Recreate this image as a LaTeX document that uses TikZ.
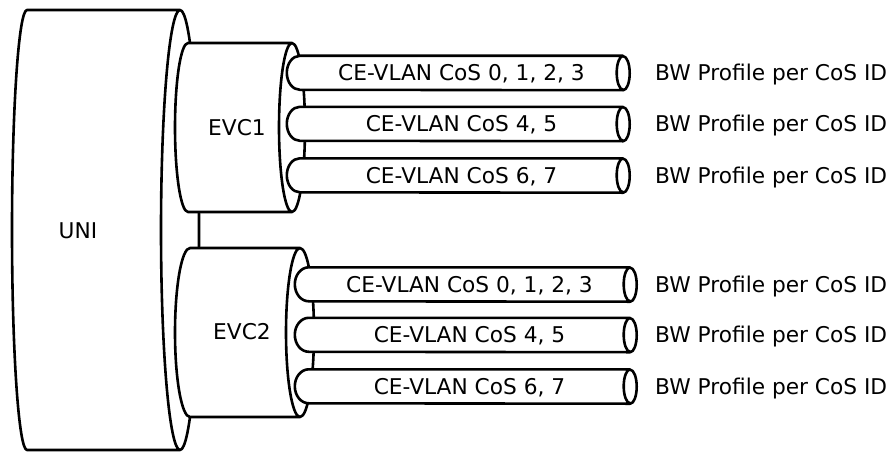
\documentclass[tikz,border=0pt]{standalone}
\usepackage{fontspec}
\setmainfont{DejaVu Sans}
\usetikzlibrary{backgrounds}

\begin{document}
\begin{tikzpicture}[
  x=1pt, y=1pt,
  txt/.style={inner sep=0pt,text height=15.8pt,text depth=0pt,font=\fontsize{21.7}{26}\selectfont},
  pipe/.style={txt,minimum height=34pt},
  bw/.style={txt,anchor=west},
  body/.style={draw,fill=white,line width=2.6pt,line join=round}
]
  \useasboundingbox (0,0) rectangle (893,-452);
  \node[txt] (uni) at (78,-231) {UNI};
  \node[txt] (evc1) at (237,-128) {EVC1};
  \node[txt] (evc2) at (242,-332) {EVC2};
  \node[pipe,minimum width=323pt] (c11) at (461.5,-73) {CE-VLAN CoS 0, 1, 2, 3};
  \node[pipe,minimum width=323pt] (c12) at (461.5,-124) {CE-VLAN CoS 4, 5};
  \node[pipe,minimum width=323pt] (c13) at (461.5,-175.5) {CE-VLAN CoS 6, 7};
  \node[pipe,minimum width=321pt] (c21) at (469.5,-284.5) {CE-VLAN CoS 0, 1, 2, 3};
  \node[pipe,minimum width=321pt] (c22) at (469.5,-335) {CE-VLAN CoS 4, 5};
  \node[pipe,minimum width=321pt] (c23) at (469.5,-386.5) {CE-VLAN CoS 6, 7};
  \node[bw] (b11) at (655,-73) {BW Profile per CoS ID};
  \node[bw] (b12) at (655,-124) {BW Profile per CoS ID};
  \node[bw] (b13) at (655,-175.5) {BW Profile per CoS ID};
  \node[bw] (b21) at (655,-284.5) {BW Profile per CoS ID};
  \node[bw] (b22) at (655,-335) {BW Profile per CoS ID};
  \node[bw] (b23) at (655,-386.5) {BW Profile per CoS ID};
  \begin{pgfonlayer}{background}
    % cylinders, back to front
    \draw[body] (180,-10) -- (27,-10) arc[start angle=90,end angle=270,x radius=15,y radius=220]
      -- (180,-450) arc[start angle=-90,end angle=90,x radius=19,y radius=220] -- cycle
      (180,-10) arc[start angle=90,end angle=270,x radius=19,y radius=220];
    \draw[body] (292,-43) -- (188,-43) arc[start angle=90,end angle=270,x radius=13,y radius=84.5]
      -- (292,-212) arc[start angle=-90,end angle=90,x radius=13,y radius=84.5] -- cycle
      (292,-43) arc[start angle=90,end angle=270,x radius=13,y radius=84.5];
    \draw[body] (300,-248) -- (190,-248) arc[start angle=90,end angle=270,x radius=15,y radius=84.5]
      -- (300,-417) arc[start angle=-90,end angle=90,x radius=14,y radius=84.5] -- cycle
      (300,-248) arc[start angle=90,end angle=270,x radius=14,y radius=84.5];
    % pipes
    \draw[body] (c11.north east) -- (c11.north west) arc[start angle=90,end angle=270,x radius=13,y radius=17] -- (c11.south east) arc[start angle=-90,end angle=90,x radius=6.5,y radius=17] -- cycle (c11.north east) arc[start angle=90,end angle=270,x radius=6.5,y radius=17];
    \draw[body] (c12.north east) -- (c12.north west) arc[start angle=90,end angle=270,x radius=13,y radius=17] -- (c12.south east) arc[start angle=-90,end angle=90,x radius=6.5,y radius=17] -- cycle (c12.north east) arc[start angle=90,end angle=270,x radius=6.5,y radius=17];
    \draw[body] (c13.north east) -- (c13.north west) arc[start angle=90,end angle=270,x radius=13,y radius=17] -- (c13.south east) arc[start angle=-90,end angle=90,x radius=6.5,y radius=17] -- cycle (c13.north east) arc[start angle=90,end angle=270,x radius=6.5,y radius=17];
    \draw[body] (c21.north east) -- (c21.north west) arc[start angle=90,end angle=270,x radius=14,y radius=17] -- (c21.south east) arc[start angle=-90,end angle=90,x radius=6.5,y radius=17] -- cycle (c21.north east) arc[start angle=90,end angle=270,x radius=6.5,y radius=17];
    \draw[body] (c22.north east) -- (c22.north west) arc[start angle=90,end angle=270,x radius=14,y radius=17] -- (c22.south east) arc[start angle=-90,end angle=90,x radius=6.5,y radius=17] -- cycle (c22.north east) arc[start angle=90,end angle=270,x radius=6.5,y radius=17];
    \draw[body] (c23.north east) -- (c23.north west) arc[start angle=90,end angle=270,x radius=14,y radius=17] -- (c23.south east) arc[start angle=-90,end angle=90,x radius=6.5,y radius=17] -- cycle (c23.north east) arc[start angle=90,end angle=270,x radius=6.5,y radius=17];
  \end{pgfonlayer}
\end{tikzpicture}
\end{document}
